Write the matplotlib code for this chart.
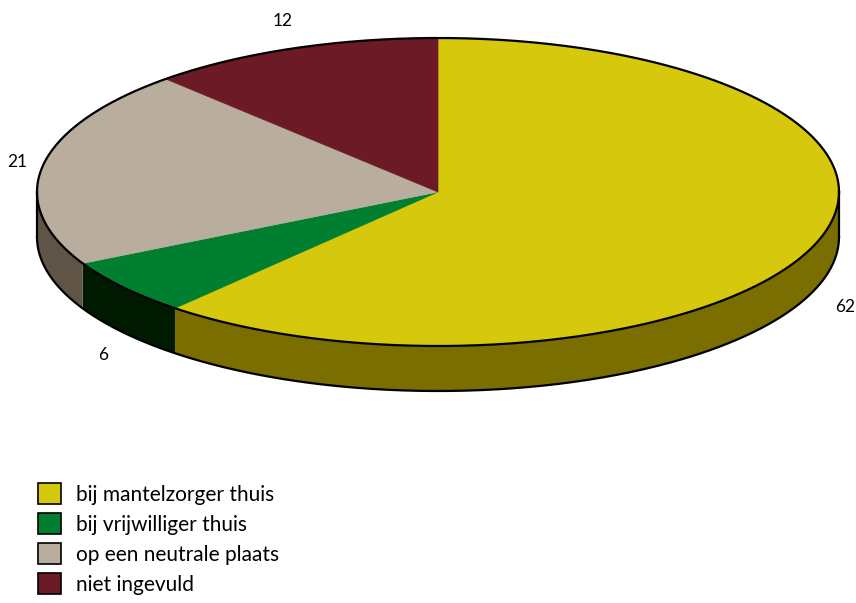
import numpy as np
import matplotlib
matplotlib.use('Agg')
import matplotlib.pyplot as plt
from matplotlib.patches import Polygon, Patch

plt.rcParams.update({
    'font.family': 'sans-serif',
    'font.sans-serif': ['Lato', 'DejaVu Sans'],
})

categories = ['bij mantelzorger thuis', 'bij vrijwilliger thuis',
              'op een neutrale plaats', 'niet ingevuld']
values = [62, 6, 21, 12]
top_colors = ['#d6c80c', '#007f30', '#b9ae9e', '#6b1a26']
side_colors = ['#7a6e00', '#001a00', '#5f5446', '#3a0d14']

# pie geometry in pixel units
cx, cy = 438, 192
rx, ry = 401, 154
depth = 45

fig = plt.figure(figsize=(8.56, 6.03), dpi=100)
ax = fig.add_axes([0, 0, 1, 1])
ax.set_xlim(0, 856)
ax.set_ylim(603, 0)
ax.axis('off')


def ell(theta, dy=0):
    t = np.radians(theta)
    return np.column_stack([cx + rx * np.cos(t), cy - ry * np.sin(t) + dy])


total = sum(values)
bounds = [90.0]
for v in values:
    bounds.append(bounds[-1] - v / total * 360.0)

# sides (front half only: theta between -180 and 0)
for i in range(len(values)):
    a0, a1 = bounds[i + 1], bounds[i]
    lo, hi = max(a0, -180), min(a1, 0)
    if hi <= lo:
        continue
    th = np.linspace(lo, hi, 200)
    top = ell(th)
    bot = ell(th[::-1], depth)
    ax.add_patch(Polygon(np.vstack([top, bot]), closed=True,
                         facecolor=side_colors[i], edgecolor='none'))

# side outline
th = np.linspace(-180, 0, 400)
ax.plot(*ell(th, depth).T, color='black', lw=1.6)
for x in (cx - rx, cx + rx):
    ax.plot([x, x], [cy, cy + depth], color='black', lw=1.6)

# top wedges
for i in range(len(values)):
    th = np.linspace(bounds[i + 1], bounds[i], 300)
    pts = np.vstack([[cx, cy], ell(th)])
    ax.add_patch(Polygon(pts, closed=True, facecolor=top_colors[i],
                         edgecolor=top_colors[i], lw=0.5))

th = np.linspace(0, 360, 600)
ax.plot(*ell(th).T, color='black', lw=1.6)

# value labels
label_pos = [(845, 307), (103, 355), (17, 162), (283, 21)]
for v, (x, y) in zip(values, label_pos):
    ax.text(x, y, str(v), fontsize=12.5, ha='center', va='center')

handles = [Patch(facecolor=c, edgecolor='black', lw=1.2) for c in top_colors]
fig.legend(handles, categories, loc='upper left', bbox_to_anchor=(0.035, 0.213),
           frameon=False, fontsize=15, handlelength=1.1, handleheight=1.2,
           handletextpad=0.7, labelspacing=0.4, borderaxespad=0)

fig.savefig('out.png', dpi=100)
